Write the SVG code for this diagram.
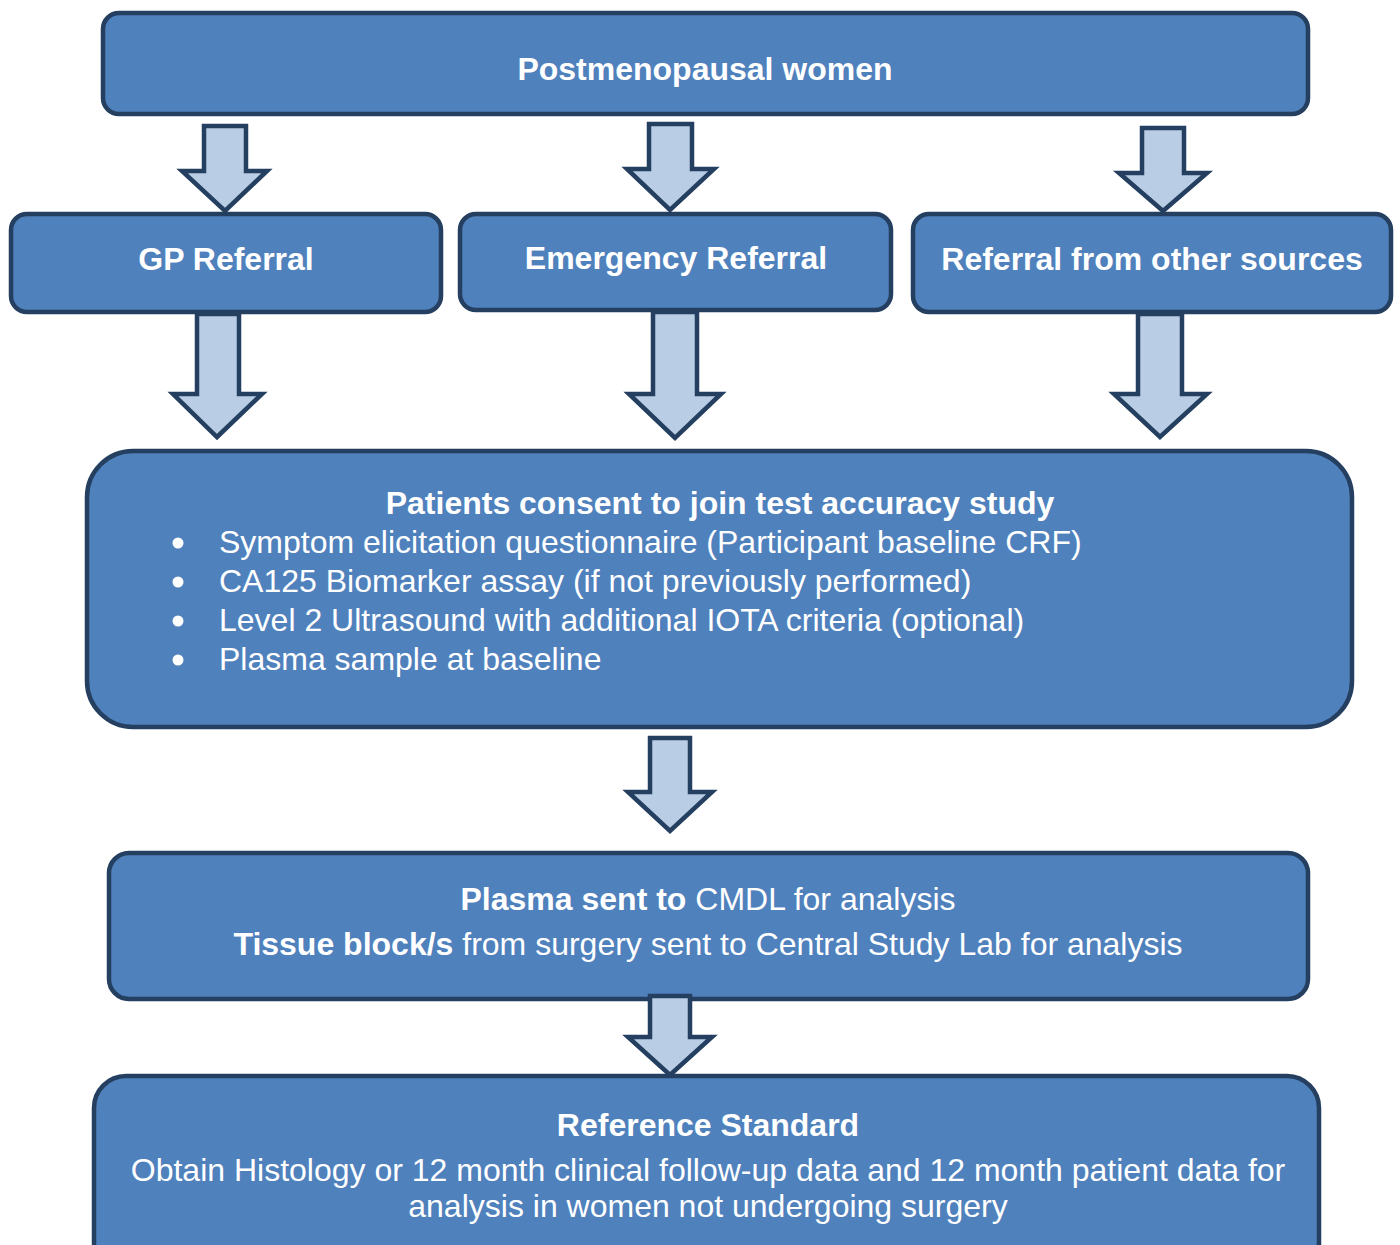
<svg xmlns="http://www.w3.org/2000/svg" width="1400" height="1245" viewBox="0 0 1400 1245">
<style>
.box{fill:#4F81BD;stroke:#243F60;stroke-width:4.5}
.arr{fill:#B9CDE5;stroke:#243F60;stroke-width:4.5;stroke-linejoin:miter}
text{font-family:"Liberation Sans",Arial,sans-serif;font-size:32px;fill:#FFFFFF}
.b{font-weight:bold}
.c{text-anchor:middle}
</style>
<rect width="1400" height="1245" fill="#FFFFFF"/>
<g id="node-postmenopausal">
<rect class="box" x="103" y="13" width="1205" height="101" rx="16"/>
<text class="b c" x="705" y="80">Postmenopausal women</text>
</g>
<g id="node-gp">
<rect class="box" x="11" y="214" width="430" height="98" rx="16"/>
<text class="b c" x="226" y="270">GP Referral</text>
</g>
<g id="node-emergency">
<rect class="box" x="460" y="214" width="431" height="96" rx="16"/>
<text class="b c" x="676" y="269">Emergency Referral</text>
</g>
<g id="node-other">
<rect class="box" x="913" y="214" width="478" height="98" rx="16"/>
<text class="b c" x="1152" y="270">Referral from other sources</text>
</g>
<g id="node-consent">
<rect class="box" x="87" y="451" width="1265" height="276" rx="46"/>
<text class="b c" x="720" y="514">Patients consent to join test accuracy study</text>
<circle cx="178" cy="543" r="5.5" fill="#FFFFFF"/>
<circle cx="178" cy="582" r="5.5" fill="#FFFFFF"/>
<circle cx="178" cy="621" r="5.5" fill="#FFFFFF"/>
<circle cx="178" cy="660" r="5.5" fill="#FFFFFF"/>
<text x="219" y="553">Symptom elicitation questionnaire (Participant baseline CRF)</text>
<text x="219" y="592">CA125 Biomarker assay (if not previously performed)</text>
<text x="219" y="631">Level 2 Ultrasound with additional IOTA criteria (optional)</text>
<text x="219" y="670">Plasma sample at baseline</text>
</g>
<g id="node-plasma">
<rect class="box" x="109" y="853" width="1199" height="146" rx="20"/>
<text class="c" x="708" y="910"><tspan class="b">Plasma sent to</tspan> CMDL for analysis</text>
<text class="c" x="708" y="955"><tspan class="b">Tissue block/s</tspan> from surgery sent to Central Study Lab for analysis</text>
</g>
<g id="node-reference">
<rect class="box" x="94" y="1076" width="1225" height="200" rx="32"/>
<text class="b c" x="708" y="1136">Reference Standard</text>
<text class="c" x="708" y="1181">Obtain Histology or 12 month clinical follow-up data and 12 month patient data for</text>
<text class="c" x="708" y="1217">analysis in women not undergoing surgery</text>
</g>
<g id="connectors">
<polygon class="arr" points="204,126 246,126 246,171 267,171 225,211 182,171 204,171"/>
<polygon class="arr" points="649,124 692,124 692,169 714,169 670,210 627,169 649,169"/>
<polygon class="arr" points="1142,128 1184,128 1184,173 1207,173 1163,211 1119,173 1142,173"/>
<polygon class="arr" points="197,314 239,314 239,394 262,394 217,437 173,394 197,394"/>
<polygon class="arr" points="653,312 697,312 697,394 721,394 675,438 629,394 653,394"/>
<polygon class="arr" points="1138,314 1182,314 1182,394 1207,394 1160,437 1114,394 1138,394"/>
<polygon class="arr" points="650,738 690,738 690,792 712,792 670,831 628,792 650,792"/>
<polygon class="arr" points="650,996 690,996 690,1037 712,1037 670,1075 628,1037 650,1037"/>
</g>
</svg>
